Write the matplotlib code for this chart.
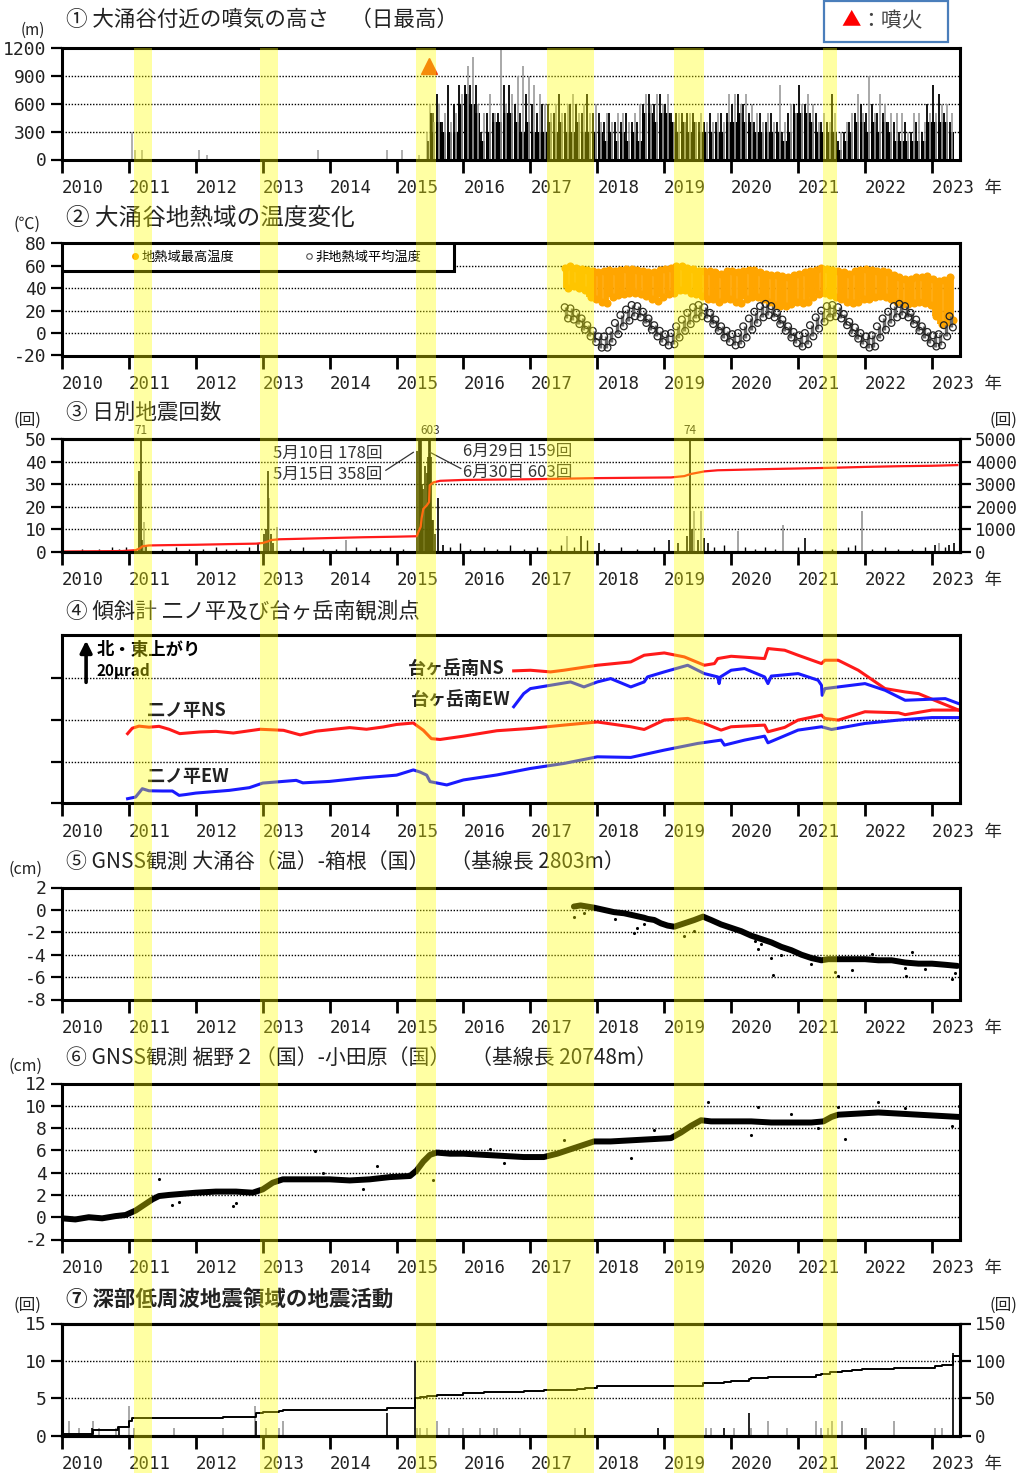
import numpy as np
import pandas as pd
import matplotlib
matplotlib.use("Agg")
import matplotlib.pyplot as plt
from matplotlib.patches import Rectangle
from matplotlib.lines import Line2D
from matplotlib.transforms import blended_transform_factory

JP = ["Noto Sans CJK JP", "DejaVu Sans"]
NUM = ["DejaVu Sans Mono", "Noto Sans CJK JP"]
plt.rcParams["font.family"] = JP
TEXT = "#222222"

# ---------------------------------------------------------------- data
YEARS = list(range(2010, 2024))
YEAR_LABELS = [str(y) for y in YEARS[:-1]] + ["2023 年"]

# periods of heightened activity (decimal years)
ACTIVE_PERIODS = [(2011.08, 2011.35), (2012.96, 2013.23), (2015.29, 2015.59),
                  (2017.25, 2017.95), (2019.15, 2019.60), (2021.37, 2021.58)]

# (1) plume height, daily maximum
PLUME_EARLY_GRAY = [(2011.05, 300), (2011.09, 100), (2011.20, 100), (2012.04, 100),
                    (2012.16, 50), (2013.82, 100), (2014.85, 100), (2015.08, 100),
                    (2015.33, 50), (2015.45, 300), (2015.50, 600)]
PLUME_EARLY_BLACK = [(2015.47, 200), (2015.52, 500), (2015.54, 500)]
PLUME_START = "2015-07-01"
# monthly levels in units of 100 m, Jul 2015 - Apr 2023
plume_base = [3, 4, 3, 3, 3, 6,
              7, 6, 5, 2, 3, 4, 4, 5, 5, 4, 3, 4,
              3, 3, 3, 4, 3, 4, 3, 3, 4, 3, 3, 3,
              3, 2, 3, 2, 3, 2, 3, 2, 5, 5, 4, 5,
              5, 4, 3, 4, 3, 4, 3, 3, 3, 3, 3, 4,
              4, 5, 4, 4, 3, 3, 3, 3, 3, 2, 3, 5,
              5, 5, 4, 3, 3, 3, 3, 1, 2, 3, 4, 4,
              3, 4, 3, 4, 3, 2, 2, 2, 2, 2, 2, 4,
              4, 4, 4, 3]
plume_black_peak = [5, 7, 4, 8, 6, 8,
                    8, 8, 8, 3, 5, 5, 5, 8, 8, 6, 5, 7,
                    6, 5, 6, 6, 5, 7, 5, 6, 6, 5, 7, 5,
                    5, 4, 5, 4, 4, 5, 4, 4, 6, 7, 6, 7,
                    6, 5, 5, 5, 5, 5, 4, 4, 5, 4, 5, 5,
                    6, 7, 6, 5, 4, 5, 4, 5, 4, 3, 5, 6,
                    8, 6, 5, 5, 4, 4, 7, 2, 3, 4, 5, 6,
                    5, 6, 5, 5, 4, 4, 3, 4, 3, 4, 3, 6,
                    8, 7, 5, 4]
plume_gray_peak = [4, 6, 5, 4, 5, 7,
                   10, 11, 6, 5, 7, 5, 12, 6, 7, 9, 10, 9,
                   8, 7, 6, 5, 6, 5, 6, 7, 5, 6, 5, 6,
                   4, 5, 4, 5, 5, 4, 5, 6, 7, 6, 7, 6,
                   7, 4, 5, 4, 5, 4, 5, 4, 4, 5, 4, 7,
                   7, 6, 7, 6, 5, 4, 5, 4, 8, 4, 6, 5,
                   6, 7, 6, 4, 5, 4, 5, 3, 4, 5, 7, 5,
                   9, 5, 7, 6, 5, 5, 5, 3, 5, 5, 4, 5,
                   5, 6, 6, 5]
ERUPTION_T = 2015.49
ERUPTION_MARK_H = 1000

# (2) temperatures, monthly range Jul 2017 - Apr 2023 (deg C)
TEMP_START = "2017-07-01"
hot_hi = [58, 60, 58, 57, 56, 55,
          54, 55, 56, 55, 56, 57, 57, 56, 55, 54, 54, 56,
          57, 58, 60, 60, 58, 57, 55, 55, 55, 54, 53, 55,
          55, 54, 55, 56, 56, 54, 53, 52, 52, 51, 50, 52,
          53, 54, 55, 56, 58, 57, 56, 55, 54, 53, 55, 56,
          57, 56, 55, 55, 54, 52, 50, 48, 48, 50, 50, 51,
          48, 46, 47, 50]
hot_lo = [40, 42, 40, 38, 32, 30,
          28, 27, 32, 34, 35, 36, 36, 35, 33, 30, 29, 32,
          35, 36, 38, 38, 36, 35, 33, 30, 30, 28, 30, 30,
          28, 27, 30, 32, 32, 30, 28, 25, 24, 24, 26, 28,
          27, 28, 32, 35, 36, 34, 32, 30, 28, 27, 28, 30,
          30, 32, 33, 32, 30, 28, 26, 26, 27, 28, 27, 25,
          15, 8, 10, 12]
cold_hi = [23, 22, 18, 13, 7, 2,
           -3, -3, 2, 9, 16, 21, 25, 24, 19, 13, 7, 2,
           -1, 0, 6, 12, 18, 23, 25, 23, 18, 12, 6, 2,
           -1, 0, 6, 13, 19, 24, 26, 24, 18, 12, 6, 1,
           -2, 0, 7, 14, 20, 24, 25, 23, 17, 10, 5, 0,
           -3, -2, 6, 13, 19, 24, 26, 24, 18, 12, 6, 1,
           -2, -1, 7, 15]
cold_lo = [13, 12, 8, 3, -3, -8,
           -13, -13, -8, -1, 6, 11, 15, 14, 9, 3, -3, -8,
           -11, -10, -4, 2, 8, 13, 15, 13, 8, 2, -4, -8,
           -11, -10, -4, 3, 9, 14, 16, 14, 8, 2, -4, -9,
           -12, -10, -3, 4, 10, 14, 15, 13, 7, 0, -5, -10,
           -13, -12, -4, 3, 9, 14, 16, 14, 8, 2, -4, -9,
           -12, -11, -3, 5]

# (3) daily earthquake counts and cumulative total
EQ_BLACK = [(2011.15, 36), (2011.18, 71), (2011.20, 5), (2011.26, 3),
            (2012.93, 4), (2013.02, 8), (2013.05, 10), (2013.08, 36), (2013.12, 8),
            (2013.16, 4), (2015.31, 45), (2015.33, 60), (2015.355, 178),
            (2015.37, 358), (2015.385, 30), (2015.40, 28), (2015.42, 38),
            (2015.44, 20), (2015.46, 35), (2015.47, 42), (2015.49, 159),
            (2015.495, 603), (2015.51, 42), (2015.53, 14), (2015.55, 14),
            (2015.57, 8), (2015.62, 24), (2015.70, 3), (2017.75, 7), (2018.02, 4),
            (2019.07, 5), (2019.20, 4), (2019.34, 7), (2019.39, 74), (2019.42, 10),
            (2019.50, 5), (2019.60, 6), (2019.65, 4), (2021.10, 6), (2023.05, 3),
            (2023.25, 3), (2023.33, 4)]
EQ_GRAY = [(2011.23, 13), (2013.10, 24), (2013.22, 11), (2014.25, 5), (2017.55, 7),
           (2019.45, 18), (2019.55, 18), (2020.10, 9), (2020.78, 12), (2021.95, 18),
           (2023.10, 4)]
EQ_SMALL = [(2010.30, 1), (2010.55, 1), (2010.75, 2), (2010.85, 1), (2010.95, 2),
            (2011.50, 1), (2011.70, 2), (2011.90, 1), (2012.10, 1), (2012.30, 2),
            (2012.45, 1), (2012.60, 1), (2012.80, 2), (2013.40, 1), (2013.60, 2),
            (2013.90, 1), (2014.10, 1), (2014.40, 2), (2014.60, 1), (2014.75, 1),
            (2014.90, 2), (2015.10, 1), (2015.80, 2), (2015.95, 4), (2016.10, 1),
            (2016.30, 2), (2016.50, 1), (2016.70, 3), (2016.90, 1), (2017.10, 2),
            (2017.30, 1), (2017.45, 3), (2017.65, 2), (2017.85, 5), (2018.10, 1),
            (2018.35, 2), (2018.60, 1), (2018.85, 2), (2019.75, 2), (2019.90, 3),
            (2020.20, 2), (2020.35, 1), (2020.50, 2), (2020.65, 1), (2021.00, 2),
            (2021.25, 1), (2021.50, 1), (2021.75, 2), (2021.85, 3), (2022.10, 1),
            (2022.30, 2), (2022.50, 1), (2022.70, 1), (2022.90, 2), (2023.20, 2)]
EQ_CUM = [(2010.0, 0), (2010.9, 20), (2011.1, 60), (2011.17, 150), (2011.2, 230),
          (2011.3, 270), (2011.6, 285), (2012.0, 300), (2012.5, 330), (2012.9, 350),
          (2013.0, 380), (2013.08, 450), (2013.12, 510), (2013.25, 545),
          (2013.6, 570), (2014.0, 600), (2014.5, 635), (2015.0, 660), (2015.3, 680),
          (2015.33, 900), (2015.36, 1100), (2015.375, 1500), (2015.4, 1900),
          (2015.45, 2050), (2015.485, 2200), (2015.495, 2950), (2015.55, 3080),
          (2015.65, 3150), (2016.0, 3190), (2017.0, 3220), (2018.0, 3270),
          (2019.1, 3300), (2019.3, 3360), (2019.39, 3450), (2019.6, 3570),
          (2019.8, 3620), (2020.5, 3670), (2021.0, 3700), (2021.5, 3730),
          (2022.0, 3770), (2022.5, 3800), (2023.0, 3820), (2023.38, 3850)]
# notes for the largest days: (month, day, count)
EQ_NOTES_MAY = [(5, 10, 178), (5, 15, 358)]
EQ_NOTES_JUN = [(6, 29, 159), (6, 30, 603)]

# (4) tiltmeters, micro-radian offsets on a common stacked scale
TILT_SCALE = 20
NINO_NS = [(2010.98, 33.4), (2011.05, 36.0), (2011.15, 37.0), (2011.3, 36.5),
           (2011.45, 36.9), (2011.6, 35.5), (2011.76, 33.4), (2012.06, 34.2),
           (2012.3, 34.5), (2012.56, 33.7), (2012.96, 35.5), (2013.31, 35.0),
           (2013.56, 32.8), (2013.8, 34.6), (2014.3, 36.3), (2014.55, 35.5),
           (2014.8, 36.6), (2015.0, 37.8), (2015.25, 38.5), (2015.4, 35.0),
           (2015.52, 31.0), (2015.65, 30.6), (2016.0, 32.2), (2016.5, 34.8),
           (2017.0, 35.9), (2017.5, 37.5), (2018.0, 39.0), (2018.5, 36.7),
           (2018.7, 35.4), (2019.0, 39.9), (2019.35, 40.7), (2019.6, 38.3),
           (2019.85, 35.1), (2020.0, 36.7), (2020.5, 37.5), (2020.55, 34.3),
           (2020.8, 36.4), (2021.0, 39.9), (2021.35, 42.3), (2021.4, 40.7),
           (2021.6, 39.9), (2022.0, 43.9), (2022.5, 43.4), (2022.6, 42.5),
           (2023.0, 44.7), (2023.4, 44.7)]
NINO_EW = [(2010.98, 2.2), (2011.1, 3.0), (2011.15, 5.0), (2011.2, 7.0),
           (2011.3, 6.0), (2011.5, 5.9), (2011.65, 5.9), (2011.75, 3.8),
           (2011.85, 4.2), (2012.0, 4.9), (2012.5, 6.2), (2012.8, 7.5),
           (2013.0, 9.7), (2013.5, 11.0), (2013.6, 9.8), (2014.0, 10.5),
           (2014.5, 12.2), (2015.0, 13.5), (2015.25, 16.0), (2015.35, 15.0),
           (2015.45, 13.5), (2015.5, 10.4), (2015.75, 8.8), (2016.0, 11.2),
           (2016.5, 13.6), (2017.0, 16.7), (2017.5, 19.1), (2018.0, 22.3),
           (2018.5, 22.0), (2019.0, 25.5), (2019.5, 28.7), (2019.85, 30.3),
           (2019.9, 27.9), (2020.2, 30.3), (2020.5, 32.2), (2020.55, 29.0),
           (2021.0, 35.1), (2021.35, 36.7), (2021.5, 35.4), (2022.0, 38.3),
           (2022.5, 39.9), (2023.0, 41.1), (2023.4, 41.1)]
TAGA_NS = [(2016.75, 63.5), (2017.0, 63.8), (2017.3, 63.0), (2017.5, 63.8),
           (2018.0, 66.2), (2018.5, 67.8), (2018.7, 71.0), (2019.0, 72.1),
           (2019.3, 70.2), (2019.6, 66.2), (2019.75, 67.0), (2019.8, 69.4),
           (2020.0, 70.5), (2020.5, 69.4), (2020.55, 74.2), (2020.8, 73.4),
           (2021.0, 71.0), (2021.35, 67.0), (2021.4, 68.6), (2021.6, 68.6),
           (2021.9, 63.8), (2022.3, 55.0), (2022.6, 53.4), (2022.8, 52.6),
           (2023.1, 48.6), (2023.4, 44.7)]
TAGA_EW = [(2016.75, 46.3), (2016.9, 52.6), (2017.0, 55.0), (2017.3, 56.6),
           (2017.6, 58.2), (2017.8, 55.8), (2018.0, 58.2), (2018.2, 59.8),
           (2018.5, 55.8), (2018.7, 58.2), (2018.75, 60.6), (2019.0, 63.0),
           (2019.35, 66.2), (2019.6, 62.2), (2019.8, 60.6), (2019.82, 57.4),
           (2019.84, 60.6), (2020.0, 63.8), (2020.2, 64.6), (2020.5, 60.6),
           (2020.55, 57.4), (2020.6, 61.0), (2021.0, 62.2), (2021.3, 59.0),
           (2021.35, 56.6), (2021.36, 51.8), (2021.4, 55.0), (2021.6, 55.8),
           (2022.0, 57.4), (2022.3, 54.2), (2022.6, 49.4), (2022.9, 49.8),
           (2023.2, 50.2), (2023.4, 47.8)]

# (5) GNSS baseline Owakudani - Hakone (cm)
GNSS1 = [(2017.65, 0.3), (2017.75, 0.4), (2017.85, 0.3), (2017.95, 0.2),
         (2018.1, 0.0), (2018.25, -0.2), (2018.4, -0.3), (2018.55, -0.5),
         (2018.7, -0.7), (2018.75, -0.8), (2018.85, -0.9), (2018.95, -1.2),
         (2019.05, -1.4), (2019.15, -1.5), (2019.3, -1.2), (2019.45, -0.9),
         (2019.58, -0.6), (2019.7, -0.9), (2019.85, -1.3), (2020.0, -1.6),
         (2020.15, -1.9), (2020.3, -2.3), (2020.45, -2.6), (2020.6, -2.9),
         (2020.75, -3.3), (2020.9, -3.6), (2021.05, -4.0), (2021.2, -4.3),
         (2021.35, -4.5), (2021.45, -4.4), (2021.6, -4.4), (2021.8, -4.4),
         (2022.0, -4.4), (2022.2, -4.5), (2022.4, -4.5), (2022.6, -4.7),
         (2022.8, -4.8), (2023.0, -4.8), (2023.2, -4.9), (2023.38, -5.0)]
GNSS1_OUT = [(2017.65, -0.6), (2017.8, -0.3), (2018.27, -0.8), (2018.55, -2.1),
             (2018.6, -1.6), (2018.7, -1.3), (2019.3, -2.3), (2019.45, -1.9),
             (2020.35, -2.8), (2020.4, -3.5), (2020.45, -3.0), (2020.6, -4.3),
             (2020.75, -4.0), (2020.62, -5.8), (2021.2, -4.8), (2021.55, -5.5),
             (2021.6, -5.9), (2021.8, -5.4), (2022.6, -5.2), (2022.62, -5.9),
             (2022.9, -5.3), (2023.3, -6.2), (2023.35, -5.6), (2022.7, -3.8),
             (2022.1, -3.9)]

# (6) GNSS baseline Susono2 - Odawara (cm)
GNSS2 = [(2010.0, -0.1), (2010.2, -0.2), (2010.4, 0.0), (2010.6, -0.1),
         (2010.8, 0.1), (2010.95, 0.2), (2011.1, 0.6), (2011.25, 1.2),
         (2011.35, 1.6), (2011.45, 1.9), (2011.6, 2.0), (2011.8, 2.1),
         (2012.0, 2.2), (2012.3, 2.3), (2012.6, 2.3), (2012.85, 2.2),
         (2013.0, 2.5), (2013.15, 3.1), (2013.3, 3.4), (2013.7, 3.4),
         (2014.0, 3.4), (2014.3, 3.3), (2014.6, 3.4), (2014.9, 3.6),
         (2015.2, 3.7), (2015.3, 4.2), (2015.4, 5.0), (2015.5, 5.6),
         (2015.6, 5.8), (2015.8, 5.7), (2016.0, 5.7), (2016.3, 5.6),
         (2016.6, 5.5), (2016.9, 5.4), (2017.2, 5.4), (2017.4, 5.7),
         (2017.6, 6.1), (2017.8, 6.5), (2017.95, 6.8), (2018.2, 6.8),
         (2018.5, 6.9), (2018.8, 7.0), (2019.1, 7.1), (2019.25, 7.6),
         (2019.4, 8.2), (2019.55, 8.7), (2019.7, 8.6), (2020.0, 8.6),
         (2020.3, 8.6), (2020.6, 8.5), (2020.9, 8.5), (2021.2, 8.5),
         (2021.38, 8.6), (2021.5, 9.0), (2021.6, 9.2), (2021.9, 9.3),
         (2022.2, 9.4), (2022.5, 9.3), (2022.8, 9.2), (2023.1, 9.1),
         (2023.4, 9.0)]
GNSS2_OUT = [(2011.45, 3.4), (2011.65, 1.1), (2011.75, 1.4), (2012.55, 1.0),
             (2012.6, 1.3), (2013.78, 5.9), (2013.9, 4.0), (2014.5, 2.5),
             (2014.7, 4.6), (2015.55, 3.3), (2015.3, 4.5), (2016.6, 4.9),
             (2016.4, 6.1), (2017.5, 6.9), (2018.5, 5.3), (2018.85, 7.8),
             (2019.65, 10.3), (2020.4, 9.9), (2020.3, 7.4), (2021.3, 8.0),
             (2021.7, 7.0), (2022.2, 10.3), (2022.6, 9.8), (2023.3, 8.2),
             (2023.4, 10.0), (2020.9, 9.3), (2021.6, 9.9)]

# (7) deep low-frequency earthquakes: daily counts and cumulative total
LF_GRAY = [(2010.10, 2), (2010.25, 1), (2010.47, 2), (2010.55, 1), (2010.80, 1),
           (2011.00, 4), (2011.08, 1), (2011.67, 1), (2012.41, 1), (2012.88, 4),
           (2013.05, 1), (2013.25, 1), (2013.30, 2), (2015.30, 1), (2015.35, 1),
           (2015.45, 1), (2015.60, 2), (2015.78, 1), (2016.00, 1), (2016.25, 1),
           (2016.45, 1), (2016.50, 1), (2016.85, 1), (2017.67, 1), (2019.62, 1),
           (2019.70, 1), (2020.04, 1), (2020.30, 1), (2020.55, 2), (2020.84, 1),
           (2021.27, 2), (2021.35, 1), (2021.45, 1), (2021.50, 2), (2021.66, 2),
           (2022.00, 1), (2022.02, 1), (2022.44, 2), (2023.05, 1), (2023.15, 1)]
LF_BLACK = [(2010.45, 1), (2010.85, 1), (2012.90, 2), (2014.85, 3), (2015.27, 10),
            (2017.82, 1), (2018.90, 1), (2019.90, 1), (2020.26, 3), (2021.95, 1),
            (2023.31, 11)]
LF_CUM = [(2010.0, 2), (2010.47, 7), (2010.84, 11), (2011.0, 19), (2011.05, 23),
          (2011.67, 24), (2012.41, 25), (2012.9, 31), (2013.0, 32), (2013.25, 33),
          (2013.3, 35), (2014.85, 37), (2015.27, 50), (2015.35, 52), (2015.45, 53),
          (2015.6, 55), (2016.0, 57), (2016.3, 58), (2016.6, 59), (2016.9, 60),
          (2017.2, 61), (2017.7, 63), (2017.82, 64), (2018.0, 66), (2018.9, 67),
          (2019.58, 70), (2019.7, 71), (2019.9, 72), (2020.0, 73), (2020.26, 76),
          (2020.3, 77), (2020.55, 78), (2020.84, 79), (2021.27, 81), (2021.35, 82),
          (2021.48, 85), (2021.66, 87), (2021.8, 88), (2021.95, 89), (2022.44, 91),
          (2023.05, 93), (2023.15, 94), (2023.3, 95), (2023.31, 106), (2023.42, 106)]


def split(pairs):
    a = np.array(pairs, dtype=float)
    return a[:, 0], a[:, 1]


def decimal_months(start, n):
    d = pd.date_range(start, periods=n, freq="MS")
    days = np.where(d.is_leap_year, 366.0, 365.0)
    return (d.year + (d.dayofyear - 1) / days).to_numpy()


# ---------------------------------------------------------------- layout
W, H = 1025, 1473
X0, X1 = 2010.0, 2023.42
AX_L, AX_R = 62, 960

fig = plt.figure(figsize=(W / 100, H / 100), dpi=100)


def panel(top, bottom):
    return fig.add_axes([AX_L / W, 1 - bottom / H, (AX_R - AX_L) / W, (bottom - top) / H])


def style(ax, ylim, yticks, grid=(), show_labels=True):
    ax.set_xlim(X0, X1)
    ax.set_ylim(*ylim)
    for s in ax.spines.values():
        s.set_linewidth(2.2)
    ax.set_xticks(YEARS)
    ax.set_xticklabels(YEAR_LABELS, ha="left", family=NUM, fontsize=12.5, color=TEXT)
    if show_labels:
        ax.set_yticks(yticks, labels=[str(v) for v in yticks], family=NUM,
                      fontsize=13, color=TEXT)
    else:
        ax.set_yticks(yticks, labels=[])
    ax.tick_params(axis="x", direction="out", length=9, width=2, pad=5)
    ax.tick_params(axis="y", direction="out", length=8, width=1.6, pad=3)
    for v in grid:
        ax.axhline(v, color="k", lw=1.0, ls=(0, (1, 1.2)), zorder=0.5)


def right_axis(ax, ylim, yticks):
    r = ax.twinx()
    r.set_ylim(*ylim)
    r.set_yticks(yticks, labels=[str(v) for v in yticks], family=NUM,
                 fontsize=12.5, color=TEXT)
    r.tick_params(axis="y", direction="out", length=8, width=1.6, pad=3)
    for s in r.spines.values():
        s.set_linewidth(2.2)
    return r


def fig_text(x, y, s, **kw):
    kw.setdefault("color", TEXT)
    kw.setdefault("va", "center")
    return fig.text(x / W, 1 - y / H, s, **kw)


# ---------------------------------------------------------------- (1) plume height
ax1 = panel(47.7, 159.5)
style(ax1, (0, 1200), [0, 300, 600, 900, 1200], grid=[300, 600, 900])
t, h = split(PLUME_EARLY_GRAY)
ax1.vlines(t, 0, h, color="#9a9a9a", lw=1.1)
t, h = split(PLUME_EARLY_BLACK)
ax1.vlines(t, 0, h, color="k", lw=1.1)
mt = decimal_months(PLUME_START, len(plume_base))
m = 1 / 12
ax1.vlines(mt + 0.72 * m, 0, np.array(plume_gray_peak) * 100, color="#9a9a9a", lw=1.2)
ax1.bar(mt + 0.5 * m, np.array(plume_base) * 100, width=0.92 * m, color="k", lw=0)
ax1.vlines(mt + 0.22 * m, 0, np.array(plume_black_peak) * 100, color="k", lw=1.3)
ax1.plot([ERUPTION_T], [ERUPTION_MARK_H], ls="none", marker="^", ms=12,
         color="#f04a10", mec="#f04a10")
fig_text(66, 20, "① 大涌谷付近の噴気の高さ　（日最高）", fontsize=15.5)
fig_text(33, 30, "(m)", fontsize=11, ha="center")
fig.add_artist(Rectangle((824 / W, 1 - 42 / H), 124 / W, 41 / H, transform=fig.transFigure,
                         fill=False, edgecolor="#4a7ebb", lw=1.6))
fig_text(851, 20, "▲", color="#ff0000", fontsize=14, ha="center")
fig_text(860, 21, "：噴火", color="#444444", fontsize=15, ha="left")

# ---------------------------------------------------------------- (2) temperatures
ax2 = panel(243.3, 355.5)
style(ax2, (-20, 80), [-20, 0, 20, 40, 60, 80], grid=[0, 20, 40, 60])
tt = decimal_months(TEMP_START, len(hot_hi))
ax2.vlines(tt + 0.5 * m, hot_lo, hot_hi, color="#ffa500", lw=4.2, zorder=2)
ax2.scatter(np.r_[tt + 0.2 * m, tt + 0.8 * m], np.r_[hot_hi, hot_lo], s=34,
            color="#ffa500", lw=0, zorder=2)
ax2.vlines(tt + 0.5 * m, cold_lo, cold_hi, color="#6a6a6a", lw=2.4, zorder=3)
ax2.scatter(np.r_[tt + 0.2 * m, tt + 0.8 * m], np.r_[cold_hi, cold_lo], s=24,
            facecolors="none", edgecolors="#222222", lw=0.9, zorder=3)
ax2.add_patch(Rectangle((0, 0.75), 0.437, 0.25, transform=ax2.transAxes,
                        facecolor="white", edgecolor="k", lw=2.2, zorder=4))
handles = [Line2D([], [], ls="none", marker="o", ms=4, mfc="#ffa500", mec="#ffa500"),
           Line2D([], [], ls="none", marker="o", ms=4, mfc="none", mec="#555555", mew=0.8)]
leg = ax2.legend(handles, ["地熱域最高温度", "非地熱域平均温度"], loc="center",
                 bbox_to_anchor=(0.238, 0.875), ncol=2, frameon=False, fontsize=9.5,
                 handletextpad=0.1, columnspacing=5.2, handlelength=0.8)
leg.set_zorder(6)
fig_text(66, 218, "② 大涌谷地熱域の温度変化", fontsize=17)
fig_text(27, 224, "(℃)", fontsize=11.5, ha="center")

# ---------------------------------------------------------------- (3) earthquakes
ax3 = panel(439.3, 551.5)
style(ax3, (0, 50), [0, 10, 20, 30, 40, 50], grid=[10, 20, 30, 40])
t, n = split(EQ_SMALL)
ax3.vlines(t, 0, n, color="k", lw=1.0)
t, n = split(EQ_GRAY)
ax3.vlines(t, 0, n, color="#8a8a8a", lw=1.1)
t, n = split(EQ_BLACK)
ax3.vlines(t, 0, n, color="k", lw=1.2)
for ti, ni in EQ_BLACK:
    if ni in (71, 603, 74):
        ax3.annotate(str(int(ni)), (ti, 50), xytext=(0, 2), textcoords="offset points",
                     ha="center", va="bottom", fontsize=8.5, color="#333333",
                     annotation_clip=False)
ax3r = right_axis(ax3, (0, 5000), [0, 1000, 2000, 3000, 4000, 5000])
t, c = split(EQ_CUM)
ax3r.plot(t, c, color="#ff1a1a", lw=1.6)
for (mo, dy, cnt), yv in zip(EQ_NOTES_MAY, (43.7, 34.4)):
    ax3.text(2013.15, yv, f"{mo}月{dy}日 {cnt}回", fontsize=12, color="#333333",
             va="center", ha="left", family=JP)
for (mo, dy, cnt), yv in zip(EQ_NOTES_JUN, (44.6, 35.3)):
    ax3.text(2016.0, yv, f"{mo}月{dy}日 {cnt}回", fontsize=12, color="#333333",
             va="center", ha="left", family=JP)
ax3.plot([2014.84, 2015.25], [36.2, 44.2], color="#333333", lw=0.9)
ax3.plot([2015.50, 2015.96], [44.2, 37.0], color="#333333", lw=0.9)
fig_text(66, 413, "③ 日別地震回数", fontsize=15.5)
fig_text(27, 420, "(回)", fontsize=12, ha="center")
fig_text(1003, 420, "(回)", fontsize=12, ha="center")

# ---------------------------------------------------------------- (4) tilt
ax4 = panel(635, 803.3)
style(ax4, (0, 80.7), [0, 20, 40, 60], grid=[20, 40, 60], show_labels=False)
for series, col in ((NINO_NS, "#ff1a1a"), (NINO_EW, "#1a1aff"),
                    (TAGA_NS, "#ff1a1a"), (TAGA_EW, "#1a1aff")):
    t, v = split(series)
    ax4.plot(t, v, color=col, lw=2.2)
ax4.annotate("", xy=(2010.36, 58 + TILT_SCALE), xytext=(2010.36, 58),
             arrowprops=dict(arrowstyle="-|>,head_width=0.35,head_length=0.7",
                             lw=2.6, color="k", shrinkA=0, shrinkB=0))
ax4.text(2010.52, 73.5, "北・東上がり", fontsize=12.5, weight="bold", va="center")
ax4.text(2010.52, 63.6, f"{TILT_SCALE}µrad", fontsize=11, weight="bold", va="center")
ax4.text(2011.27, 44.3, "二ノ平NS", fontsize=13, weight="bold", va="center", color="#222")
ax4.text(2011.27, 12.7, "二ノ平EW", fontsize=13, weight="bold", va="center", color="#222")
ax4.text(2016.62, 64.4, "台ヶ岳南NS", fontsize=13, weight="bold", va="center", ha="right",
         color="#222")
ax4.text(2016.71, 49.6, "台ヶ岳南EW", fontsize=13, weight="bold", va="center", ha="right",
         color="#222")
fig_text(66, 611, "④ 傾斜計 二ノ平及び台ヶ岳南観測点", fontsize=15.5)

# ---------------------------------------------------------------- (5) GNSS 1
ax5 = panel(887.5, 999.5)
style(ax5, (-8, 2), [-8, -6, -4, -2, 0, 2], grid=[-6, -4, -2, 0])
t, v = split(GNSS1)
ax5.plot(t, v, color="k", lw=4.3, solid_capstyle="round")
t, v = split(GNSS1_OUT)
ax5.scatter(t, v, s=5, color="k", lw=0)
fig_text(66, 862, "⑤ GNSS観測 大涌谷（温）-箱根（国）　（基線長 2803m）", fontsize=15)
fig_text(26, 869, "(cm)", fontsize=11.5, ha="center")

# ---------------------------------------------------------------- (6) GNSS 2
ax6 = panel(1083.5, 1239.5)
style(ax6, (-2, 12), [-2, 0, 2, 4, 6, 8, 10, 12], grid=[0, 2, 4, 6, 8, 10])
t, v = split(GNSS2)
ax6.plot(t, v, color="k", lw=4.3, solid_capstyle="round")
t, v = split(GNSS2_OUT)
ax6.scatter(t, v, s=5, color="k", lw=0)
fig_text(66, 1058, "⑥ GNSS観測 裾野２（国）-小田原（国）　（基線長 20748m）", fontsize=15)
fig_text(26, 1066, "(cm)", fontsize=11.5, ha="center")

# ---------------------------------------------------------------- (7) deep low-frequency
ax7 = panel(1323.5, 1435.7)
style(ax7, (0, 15), [0, 5, 10, 15], grid=[5, 10])
t, n = split(LF_GRAY)
ax7.vlines(t, 0, n, color="#9a9a9a", lw=1.2)
t, n = split(LF_BLACK)
ax7.vlines(t, 0, n, color="k", lw=1.2)
ax7r = right_axis(ax7, (0, 150), [0, 50, 100, 150])
t, c = split(LF_CUM)
ax7r.step(t, c, where="post", color="k", lw=1.4)
fig_text(66, 1299, "⑦ 深部低周波地震領域の地震活動", fontsize=15.5, weight="bold")
fig_text(27, 1305, "(回)", fontsize=12, ha="center")
fig_text(1003, 1305, "(回)", fontsize=12, ha="center")

# ---------------------------------------------------------------- activity bands
band_tf = blended_transform_factory(ax1.transData, fig.transFigure)
band_top = 1 - 47.7 / H
for t0, t1 in ACTIVE_PERIODS:
    fig.add_artist(Rectangle((t0, 0), t1 - t0, band_top, transform=band_tf,
                             facecolor=(1.0, 1.0, 0.0), alpha=0.36, lw=0, zorder=50))

fig.savefig("out.png", dpi=100)
